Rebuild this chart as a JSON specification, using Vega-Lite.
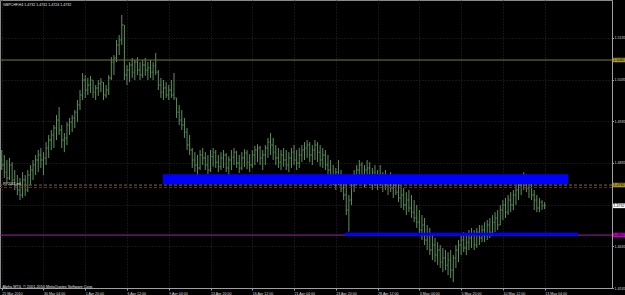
{
"$schema": "https://vega.github.io/schema/vega-lite/v6.json",
"autosize": {"type": "none"},
"padding": {"left": 0, "top": 0, "right": 13, "bottom": 7},
"width": 612,
"height": 288,
"background": "#000000",
"config": {"view": {"stroke": "#8a8a8a", "strokeWidth": 1}, "text": {"font": "Liberation Sans"}},
"data": {"values": [
{"i":0,"o":1.4842,"h":1.4866,"l":1.4818,"c":1.4830},
{"i":1,"o":1.4830,"h":1.4854,"l":1.4799,"c":1.4813},
{"i":2,"o":1.4813,"h":1.4842,"l":1.4789,"c":1.4799},
{"i":3,"o":1.4799,"h":1.4847,"l":1.4794,"c":1.4830},
{"i":4,"o":1.4830,"h":1.4837,"l":1.4782,"c":1.4794},
{"i":5,"o":1.4794,"h":1.4818,"l":1.4770,"c":1.4780},
{"i":6,"o":1.4780,"h":1.4806,"l":1.4758,"c":1.4770},
{"i":7,"o":1.4770,"h":1.4799,"l":1.4746,"c":1.4758},
{"i":8,"o":1.4758,"h":1.4813,"l":1.4751,"c":1.4794},
{"i":9,"o":1.4794,"h":1.4806,"l":1.4756,"c":1.4770},
{"i":10,"o":1.4770,"h":1.4818,"l":1.4765,"c":1.4806},
{"i":11,"o":1.4806,"h":1.4830,"l":1.4782,"c":1.4818},
{"i":12,"o":1.4818,"h":1.4842,"l":1.4794,"c":1.4830},
{"i":13,"o":1.4830,"h":1.4854,"l":1.4806,"c":1.4842},
{"i":14,"o":1.4842,"h":1.4866,"l":1.4813,"c":1.4854},
{"i":15,"o":1.4854,"h":1.4871,"l":1.4823,"c":1.4842},
{"i":16,"o":1.4842,"h":1.4861,"l":1.4806,"c":1.4847},
{"i":17,"o":1.4847,"h":1.4885,"l":1.4830,"c":1.4871},
{"i":18,"o":1.4871,"h":1.4902,"l":1.4847,"c":1.4890},
{"i":19,"o":1.4890,"h":1.4914,"l":1.4866,"c":1.4902},
{"i":20,"o":1.4902,"h":1.4926,"l":1.4871,"c":1.4919},
{"i":21,"o":1.4919,"h":1.4950,"l":1.4890,"c":1.4938},
{"i":22,"o":1.4938,"h":1.4969,"l":1.4902,"c":1.4914},
{"i":23,"o":1.4914,"h":1.4926,"l":1.4871,"c":1.4890},
{"i":24,"o":1.4890,"h":1.4907,"l":1.4861,"c":1.4895},
{"i":25,"o":1.4895,"h":1.4933,"l":1.4878,"c":1.4926},
{"i":26,"o":1.4926,"h":1.4943,"l":1.4902,"c":1.4933},
{"i":27,"o":1.4933,"h":1.4950,"l":1.4909,"c":1.4943},
{"i":28,"o":1.4943,"h":1.4962,"l":1.4919,"c":1.4957},
{"i":29,"o":1.4957,"h":1.4986,"l":1.4933,"c":1.4974},
{"i":30,"o":1.4974,"h":1.5010,"l":1.4962,"c":1.4998},
{"i":31,"o":1.4998,"h":1.5051,"l":1.4986,"c":1.5034},
{"i":32,"o":1.5034,"h":1.5046,"l":1.4991,"c":1.5010},
{"i":33,"o":1.5010,"h":1.5039,"l":1.4998,"c":1.5022},
{"i":34,"o":1.5022,"h":1.5044,"l":1.5003,"c":1.5034},
{"i":35,"o":1.5034,"h":1.5034,"l":1.4991,"c":1.5005},
{"i":36,"o":1.5005,"h":1.5022,"l":1.4986,"c":1.5015},
{"i":37,"o":1.5015,"h":1.5034,"l":1.4996,"c":1.5025},
{"i":38,"o":1.5025,"h":1.5039,"l":1.5005,"c":1.5029},
{"i":39,"o":1.5029,"h":1.5029,"l":1.4986,"c":1.4998},
{"i":40,"o":1.4998,"h":1.5022,"l":1.4991,"c":1.5010},
{"i":41,"o":1.5010,"h":1.5046,"l":1.4998,"c":1.5039},
{"i":42,"o":1.5039,"h":1.5089,"l":1.5034,"c":1.5077},
{"i":43,"o":1.5077,"h":1.5094,"l":1.5046,"c":1.5087},
{"i":44,"o":1.5087,"h":1.5130,"l":1.5077,"c":1.5118},
{"i":45,"o":1.5118,"h":1.5142,"l":1.5094,"c":1.5130},
{"i":46,"o":1.5130,"h":1.5190,"l":1.5118,"c":1.5166},
{"i":47,"o":1.5166,"h":1.5166,"l":1.5034,"c":1.5046},
{"i":48,"o":1.5046,"h":1.5070,"l":1.5022,"c":1.5058},
{"i":49,"o":1.5058,"h":1.5077,"l":1.5029,"c":1.5070},
{"i":50,"o":1.5070,"h":1.5087,"l":1.5039,"c":1.5053},
{"i":51,"o":1.5053,"h":1.5082,"l":1.5034,"c":1.5077},
{"i":52,"o":1.5077,"h":1.5089,"l":1.5046,"c":1.5058},
{"i":53,"o":1.5058,"h":1.5077,"l":1.5034,"c":1.5046},
{"i":54,"o":1.5046,"h":1.5082,"l":1.5039,"c":1.5070},
{"i":55,"o":1.5070,"h":1.5087,"l":1.5044,"c":1.5058},
{"i":56,"o":1.5058,"h":1.5077,"l":1.5034,"c":1.5063},
{"i":57,"o":1.5063,"h":1.5082,"l":1.5039,"c":1.5053},
{"i":58,"o":1.5053,"h":1.5077,"l":1.5034,"c":1.5068},
{"i":59,"o":1.5068,"h":1.5099,"l":1.5046,"c":1.5053},
{"i":60,"o":1.5053,"h":1.5058,"l":1.5010,"c":1.5022},
{"i":61,"o":1.5022,"h":1.5039,"l":1.4991,"c":1.5005},
{"i":62,"o":1.5005,"h":1.5034,"l":1.4986,"c":1.5015},
{"i":63,"o":1.5015,"h":1.5029,"l":1.4991,"c":1.4998},
{"i":64,"o":1.4998,"h":1.5022,"l":1.4986,"c":1.5010},
{"i":65,"o":1.5010,"h":1.5034,"l":1.4991,"c":1.4998},
{"i":66,"o":1.4998,"h":1.5051,"l":1.4986,"c":1.4991},
{"i":67,"o":1.4991,"h":1.4991,"l":1.4943,"c":1.4957},
{"i":68,"o":1.4957,"h":1.4974,"l":1.4926,"c":1.4938},
{"i":69,"o":1.4938,"h":1.4962,"l":1.4914,"c":1.4926},
{"i":70,"o":1.4926,"h":1.4943,"l":1.4895,"c":1.4909},
{"i":71,"o":1.4909,"h":1.4919,"l":1.4866,"c":1.4878},
{"i":72,"o":1.4878,"h":1.4902,"l":1.4854,"c":1.4866},
{"i":73,"o":1.4866,"h":1.4871,"l":1.4823,"c":1.4842},
{"i":74,"o":1.4842,"h":1.4861,"l":1.4813,"c":1.4830},
{"i":75,"o":1.4830,"h":1.4854,"l":1.4806,"c":1.4823},
{"i":76,"o":1.4823,"h":1.4866,"l":1.4818,"c":1.4854},
{"i":77,"o":1.4854,"h":1.4871,"l":1.4830,"c":1.4847},
{"i":78,"o":1.4847,"h":1.4861,"l":1.4818,"c":1.4830},
{"i":79,"o":1.4830,"h":1.4854,"l":1.4808,"c":1.4818},
{"i":80,"o":1.4818,"h":1.4866,"l":1.4813,"c":1.4851},
{"i":81,"o":1.4851,"h":1.4871,"l":1.4826,"c":1.4861},
{"i":82,"o":1.4861,"h":1.4866,"l":1.4823,"c":1.4837},
{"i":83,"o":1.4837,"h":1.4854,"l":1.4813,"c":1.4826},
{"i":84,"o":1.4826,"h":1.4861,"l":1.4818,"c":1.4847},
{"i":85,"o":1.4847,"h":1.4866,"l":1.4823,"c":1.4854},
{"i":86,"o":1.4854,"h":1.4859,"l":1.4813,"c":1.4823},
{"i":87,"o":1.4823,"h":1.4851,"l":1.4806,"c":1.4842},
{"i":88,"o":1.4842,"h":1.4866,"l":1.4818,"c":1.4849},
{"i":89,"o":1.4849,"h":1.4871,"l":1.4830,"c":1.4861},
{"i":90,"o":1.4861,"h":1.4864,"l":1.4823,"c":1.4835},
{"i":91,"o":1.4835,"h":1.4854,"l":1.4811,"c":1.4823},
{"i":92,"o":1.4823,"h":1.4861,"l":1.4818,"c":1.4847},
{"i":93,"o":1.4847,"h":1.4868,"l":1.4825,"c":1.4859},
{"i":94,"o":1.4859,"h":1.4866,"l":1.4820,"c":1.4837},
{"i":95,"o":1.4837,"h":1.4856,"l":1.4813,"c":1.4830},
{"i":96,"o":1.4830,"h":1.4866,"l":1.4823,"c":1.4854},
{"i":97,"o":1.4854,"h":1.4876,"l":1.4830,"c":1.4866},
{"i":98,"o":1.4866,"h":1.4880,"l":1.4837,"c":1.4871},
{"i":99,"o":1.4871,"h":1.4876,"l":1.4830,"c":1.4847},
{"i":100,"o":1.4847,"h":1.4866,"l":1.4818,"c":1.4854},
{"i":101,"o":1.4854,"h":1.4878,"l":1.4830,"c":1.4871},
{"i":102,"o":1.4871,"h":1.4895,"l":1.4847,"c":1.4885},
{"i":103,"o":1.4885,"h":1.4907,"l":1.4854,"c":1.4878},
{"i":104,"o":1.4878,"h":1.4895,"l":1.4842,"c":1.4861},
{"i":105,"o":1.4861,"h":1.4878,"l":1.4830,"c":1.4847},
{"i":106,"o":1.4847,"h":1.4871,"l":1.4823,"c":1.4837},
{"i":107,"o":1.4837,"h":1.4866,"l":1.4818,"c":1.4854},
{"i":108,"o":1.4854,"h":1.4871,"l":1.4826,"c":1.4842},
{"i":109,"o":1.4842,"h":1.4866,"l":1.4818,"c":1.4830},
{"i":110,"o":1.4830,"h":1.4861,"l":1.4813,"c":1.4847},
{"i":111,"o":1.4847,"h":1.4871,"l":1.4823,"c":1.4861},
{"i":112,"o":1.4861,"h":1.4878,"l":1.4830,"c":1.4842},
{"i":113,"o":1.4842,"h":1.4866,"l":1.4818,"c":1.4835},
{"i":114,"o":1.4835,"h":1.4871,"l":1.4823,"c":1.4854},
{"i":115,"o":1.4854,"h":1.4878,"l":1.4837,"c":1.4866},
{"i":116,"o":1.4866,"h":1.4885,"l":1.4842,"c":1.4871},
{"i":117,"o":1.4871,"h":1.4890,"l":1.4847,"c":1.4878},
{"i":118,"o":1.4878,"h":1.4885,"l":1.4837,"c":1.4854},
{"i":119,"o":1.4854,"h":1.4878,"l":1.4830,"c":1.4866},
{"i":120,"o":1.4866,"h":1.4890,"l":1.4842,"c":1.4878},
{"i":121,"o":1.4878,"h":1.4885,"l":1.4837,"c":1.4861},
{"i":122,"o":1.4861,"h":1.4878,"l":1.4826,"c":1.4842},
{"i":123,"o":1.4842,"h":1.4871,"l":1.4823,"c":1.4854},
{"i":124,"o":1.4854,"h":1.4866,"l":1.4818,"c":1.4830},
{"i":125,"o":1.4830,"h":1.4854,"l":1.4806,"c":1.4818},
{"i":126,"o":1.4818,"h":1.4842,"l":1.4794,"c":1.4806},
{"i":127,"o":1.4806,"h":1.4830,"l":1.4782,"c":1.4794},
{"i":128,"o":1.4794,"h":1.4823,"l":1.4770,"c":1.4813},
{"i":129,"o":1.4813,"h":1.4842,"l":1.4782,"c":1.4789},
{"i":130,"o":1.4789,"h":1.4818,"l":1.4765,"c":1.4775},
{"i":131,"o":1.4775,"h":1.4806,"l":1.4746,"c":1.4758},
{"i":132,"o":1.4758,"h":1.4794,"l":1.4710,"c":1.4722},
{"i":133,"o":1.4722,"h":1.4758,"l":1.4670,"c":1.4746},
{"i":134,"o":1.4746,"h":1.4794,"l":1.4734,"c":1.4782},
{"i":135,"o":1.4782,"h":1.4818,"l":1.4765,"c":1.4806},
{"i":136,"o":1.4806,"h":1.4830,"l":1.4782,"c":1.4818},
{"i":137,"o":1.4818,"h":1.4842,"l":1.4794,"c":1.4830},
{"i":138,"o":1.4830,"h":1.4837,"l":1.4789,"c":1.4806},
{"i":139,"o":1.4806,"h":1.4830,"l":1.4775,"c":1.4818},
{"i":140,"o":1.4818,"h":1.4842,"l":1.4789,"c":1.4823},
{"i":141,"o":1.4823,"h":1.4837,"l":1.4782,"c":1.4799},
{"i":142,"o":1.4799,"h":1.4823,"l":1.4770,"c":1.4813},
{"i":143,"o":1.4813,"h":1.4830,"l":1.4780,"c":1.4794},
{"i":144,"o":1.4794,"h":1.4818,"l":1.4770,"c":1.4806},
{"i":145,"o":1.4806,"h":1.4830,"l":1.4782,"c":1.4789},
{"i":146,"o":1.4789,"h":1.4813,"l":1.4765,"c":1.4799},
{"i":147,"o":1.4799,"h":1.4818,"l":1.4770,"c":1.4782},
{"i":148,"o":1.4782,"h":1.4806,"l":1.4758,"c":1.4794},
{"i":149,"o":1.4794,"h":1.4813,"l":1.4765,"c":1.4775},
{"i":150,"o":1.4775,"h":1.4799,"l":1.4751,"c":1.4782},
{"i":151,"o":1.4782,"h":1.4806,"l":1.4758,"c":1.4765},
{"i":152,"o":1.4765,"h":1.4789,"l":1.4741,"c":1.4751},
{"i":153,"o":1.4751,"h":1.4782,"l":1.4727,"c":1.4758},
{"i":154,"o":1.4758,"h":1.4775,"l":1.4722,"c":1.4734},
{"i":155,"o":1.4734,"h":1.4765,"l":1.4710,"c":1.4746},
{"i":156,"o":1.4746,"h":1.4770,"l":1.4717,"c":1.4727},
{"i":157,"o":1.4727,"h":1.4758,"l":1.4703,"c":1.4717},
{"i":158,"o":1.4717,"h":1.4746,"l":1.4693,"c":1.4703},
{"i":159,"o":1.4703,"h":1.4734,"l":1.4679,"c":1.4693},
{"i":160,"o":1.4693,"h":1.4722,"l":1.4662,"c":1.4674},
{"i":161,"o":1.4674,"h":1.4710,"l":1.4650,"c":1.4686},
{"i":162,"o":1.4686,"h":1.4703,"l":1.4638,"c":1.4650},
{"i":163,"o":1.4650,"h":1.4686,"l":1.4626,"c":1.4662},
{"i":164,"o":1.4662,"h":1.4679,"l":1.4614,"c":1.4626},
{"i":165,"o":1.4626,"h":1.4662,"l":1.4602,"c":1.4638},
{"i":166,"o":1.4638,"h":1.4655,"l":1.4597,"c":1.4614},
{"i":167,"o":1.4614,"h":1.4645,"l":1.4590,"c":1.4626},
{"i":168,"o":1.4626,"h":1.4638,"l":1.4583,"c":1.4597},
{"i":169,"o":1.4597,"h":1.4631,"l":1.4573,"c":1.4607},
{"i":170,"o":1.4607,"h":1.4626,"l":1.4578,"c":1.4590},
{"i":171,"o":1.4590,"h":1.4621,"l":1.4566,"c":1.4602},
{"i":172,"o":1.4602,"h":1.4626,"l":1.4559,"c":1.4578},
{"i":173,"o":1.4578,"h":1.4614,"l":1.4549,"c":1.4607},
{"i":174,"o":1.4607,"h":1.4638,"l":1.4583,"c":1.4626},
{"i":175,"o":1.4626,"h":1.4650,"l":1.4597,"c":1.4638},
{"i":176,"o":1.4638,"h":1.4662,"l":1.4614,"c":1.4650},
{"i":177,"o":1.4650,"h":1.4669,"l":1.4621,"c":1.4631},
{"i":178,"o":1.4631,"h":1.4662,"l":1.4614,"c":1.4645},
{"i":179,"o":1.4645,"h":1.4674,"l":1.4626,"c":1.4655},
{"i":180,"o":1.4655,"h":1.4679,"l":1.4631,"c":1.4662},
{"i":181,"o":1.4662,"h":1.4674,"l":1.4626,"c":1.4638},
{"i":182,"o":1.4638,"h":1.4679,"l":1.4631,"c":1.4669},
{"i":183,"o":1.4669,"h":1.4686,"l":1.4638,"c":1.4655},
{"i":184,"o":1.4655,"h":1.4686,"l":1.4645,"c":1.4674},
{"i":185,"o":1.4674,"h":1.4693,"l":1.4645,"c":1.4662},
{"i":186,"o":1.4662,"h":1.4698,"l":1.4650,"c":1.4686},
{"i":187,"o":1.4686,"h":1.4703,"l":1.4655,"c":1.4669},
{"i":188,"o":1.4669,"h":1.4710,"l":1.4660,"c":1.4693},
{"i":189,"o":1.4693,"h":1.4717,"l":1.4669,"c":1.4703},
{"i":190,"o":1.4703,"h":1.4722,"l":1.4674,"c":1.4686},
{"i":191,"o":1.4686,"h":1.4734,"l":1.4686,"c":1.4722},
{"i":192,"o":1.4722,"h":1.4746,"l":1.4698,"c":1.4734},
{"i":193,"o":1.4734,"h":1.4751,"l":1.4703,"c":1.4717},
{"i":194,"o":1.4717,"h":1.4758,"l":1.4710,"c":1.4746},
{"i":195,"o":1.4746,"h":1.4765,"l":1.4717,"c":1.4734},
{"i":196,"o":1.4734,"h":1.4770,"l":1.4722,"c":1.4758},
{"i":197,"o":1.4758,"h":1.4782,"l":1.4734,"c":1.4770},
{"i":198,"o":1.4770,"h":1.4794,"l":1.4746,"c":1.4782},
{"i":199,"o":1.4782,"h":1.4806,"l":1.4758,"c":1.4799},
{"i":200,"o":1.4799,"h":1.4813,"l":1.4770,"c":1.4794},
{"i":201,"o":1.4794,"h":1.4808,"l":1.4765,"c":1.4775},
{"i":202,"o":1.4775,"h":1.4799,"l":1.4751,"c":1.4789},
{"i":203,"o":1.4789,"h":1.4794,"l":1.4746,"c":1.4758},
{"i":204,"o":1.4758,"h":1.4770,"l":1.4722,"c":1.4746},
{"i":205,"o":1.4746,"h":1.4758,"l":1.4717,"c":1.4727},
{"i":206,"o":1.4727,"h":1.4751,"l":1.4717,"c":1.4741},
{"i":207,"o":1.4741,"h":1.4746,"l":1.4722,"c":1.4732},
{"i":208,"o":1.4732,"h":1.4741,"l":1.4724,"c":1.4732}
]},
"layer": [
{"mark": {"type": "rule", "color": "#66a066", "strokeWidth": 0.9},
 "encoding": {
  "x": {"field": "i", "type": "quantitative", "scale": {"domain": [-0.65, 233.8], "nice": false, "zero": false},
   "axis": {"orient": "bottom", "title": null, "values": [0,8,16,24,32,40,48,56,64,72,80,88,96,104,112,120,128,136,144,152,160,168,176,184,192,200,208],
    "labelExpr": "['25 Mar 2010','26 Mar 20:00','30 Mar 04:00','31 Mar 12:00','1 Apr 20:00','5 Apr 04:00','6 Apr 12:00','7 Apr 20:00','9 Apr 04:00','12 Apr 12:00','13 Apr 20:00','15 Apr 04:00','16 Apr 12:00','19 Apr 20:00','21 Apr 04:00','22 Apr 12:00','23 Apr 20:00','27 Apr 04:00','28 Apr 12:00','29 Apr 20:00','3 May 04:00','4 May 12:00','5 May 20:00','7 May 04:00','10 May 12:00','11 May 20:00','13 May 04:00'][round(datum.value/8)]",
    "labelFont": "Liberation Sans", "labelFontSize": 3.6, "labelColor": "#d8d8d8", "labelAlign": "left", "labelBaseline": "top", "labelPadding": 1, "labelOverlap": false, "labelFlush": false, "labelBound": false,
    "tickSize": 2, "tickColor": "#a0a0a0", "domainColor": "#a0a0a0", "grid": true, "gridColor": "#2a2a2a", "gridDash": [1, 2]}},
  "y": {"field": "l", "type": "quantitative", "scale": {"domain": [1.4535, 1.5226], "nice": false, "zero": false},
   "axis": {"orient": "right", "title": null, "values": [1.5210,1.5185,1.5160,1.5135,1.5110,1.5085,1.5060,1.5035,1.5010,1.4985,1.4960,1.4935,1.4910,1.4885,1.4860,1.4835,1.4810,1.4785,1.4760,1.4735,1.4710,1.4685,1.4660,1.4635,1.4610,1.4585,1.4560,1.4535],
    "format": ".4f", "labelFont": "Liberation Sans", "labelFontSize": 3.6, "labelColor": "#d8d8d8", "labelAlign": "left", "labelBaseline": "middle", "labelPadding": 0.5, "labelOverlap": false, "labelFlush": false, "labelBound": false,
    "tickSize": 1.5, "tickColor": "#a0a0a0", "domainColor": "#a0a0a0", "grid": true, "gridColor": "#2a2a2a", "gridDash": [1, 2]}},
  "y2": {"field": "h"}
 }},
{"mark": {"type": "tick", "orient": "horizontal", "color": "#66a066", "size": 1.2, "thickness": 0.9, "xOffset": -0.6},
 "encoding": {"x": {"field": "i", "type": "quantitative"}, "y": {"field": "o", "type": "quantitative"}}},
{"mark": {"type": "tick", "orient": "horizontal", "color": "#66a066", "size": 1.2, "thickness": 0.9, "xOffset": 0.6},
 "encoding": {"x": {"field": "i", "type": "quantitative"}, "y": {"field": "c", "type": "quantitative"}}},
{"data": {"values": [{}]}, "mark": {"type": "rule", "color": "#7a7a30", "strokeWidth": 1},
 "encoding": {"y": {"datum": 1.5082, "type": "quantitative"}}},
{"data": {"values": [{"x0": 61.8, "x1": 217, "p0": 1.4784, "p1": 1.4808}]}, "mark": {"type": "rect", "color": "#0000ff"},
 "encoding": {"x": {"field": "x0", "type": "quantitative"}, "x2": {"field": "x1"}, "y": {"field": "p0", "type": "quantitative"}, "y2": {"field": "p1"}}},
{"data": {"values": [{}]}, "mark": {"type": "rule", "color": "#6e6e48", "strokeWidth": 1, "strokeDash": [3, 2]},
 "encoding": {"y": {"datum": 1.4782, "type": "quantitative"}}},
{"data": {"values": [{}]}, "mark": {"type": "rule", "color": "#7a2424", "strokeWidth": 1, "strokeDash": [3, 2]},
 "encoding": {"y": {"datum": 1.4776, "type": "quantitative"}}},
{"data": {"values": [{}]}, "mark": {"type": "rule", "color": "#a020a0", "strokeWidth": 1},
 "encoding": {"y": {"datum": 1.4662, "type": "quantitative"}}},
{"data": {"values": [{"x0": 131.5, "x1": 220.8, "p": 1.4664}]}, "mark": {"type": "rule", "color": "#0000ff", "strokeWidth": 3},
 "encoding": {"x": {"field": "x0", "type": "quantitative"}, "x2": {"field": "x1"}, "y": {"field": "p", "type": "quantitative"}}},
{"data": {"values": [{}]}, "mark": {"type": "text", "align": "left", "baseline": "middle", "fontSize": 3.6, "color": "#e0e0e0"},
 "encoding": {"x": {"datum": 0.5, "type": "quantitative"}, "y": {"datum": 1.5214, "type": "quantitative"}, "text": {"value": "GBPCHF,H4  1.4732 1.4741 1.4724 1.4732"}}},
{"data": {"values": [{}]}, "mark": {"type": "text", "align": "left", "baseline": "middle", "fontSize": 3.6, "color": "#e0e0e0"},
 "encoding": {"x": {"datum": 0.5, "type": "quantitative"}, "y": {"datum": 1.4784, "type": "quantitative"}, "text": {"value": "PP2011.ref"}}},
{"data": {"values": [{}]}, "mark": {"type": "text", "align": "left", "baseline": "middle", "fontSize": 3.8, "color": "#e0e0e0"},
 "encoding": {"x": {"datum": 0.3, "type": "quantitative"}, "y": {"datum": 1.4538, "type": "quantitative"}, "text": {"value": "Alpha MT4, © 2001-2010 MetaQuotes Software Corp."}}},
{"data": {"values": [{"p": 1.5082, "kind": "level"}, {"p": 1.4782, "kind": "ref"}, {"p": 1.4732, "kind": "bid"}, {"p": 1.4662, "kind": "support"}]},
 "mark": {"type": "tick", "orient": "horizontal", "size": 13, "thickness": 4.5, "opacity": 1},
 "encoding": {"x": {"datum": 236.7, "type": "quantitative"}, "y": {"field": "p", "type": "quantitative"},
  "color": {"field": "kind", "type": "nominal", "legend": null, "scale": {"domain": ["level", "ref", "bid", "support"], "range": ["#a89a20", "#a89a20", "#ffffff", "#c000c0"]}}}},
{"data": {"values": [{"p": 1.5082}, {"p": 1.4782}, {"p": 1.4732}, {"p": 1.4662}]},
 "mark": {"type": "text", "align": "left", "baseline": "middle", "fontSize": 3.6, "color": "#000000"},
 "encoding": {"x": {"datum": 234.4, "type": "quantitative"}, "y": {"field": "p", "type": "quantitative"}, "text": {"field": "p", "type": "quantitative", "format": ".4f"}}}
]
}
